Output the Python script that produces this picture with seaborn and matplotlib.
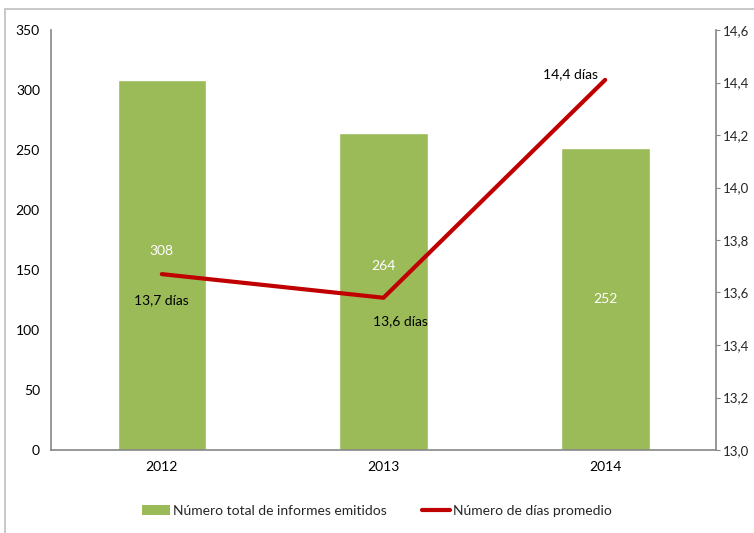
import matplotlib
matplotlib.use("Agg")
import matplotlib.pyplot as plt
import seaborn as sns
import numpy as np
import pandas as pd
from matplotlib.patches import Patch, Rectangle
from matplotlib.lines import Line2D
from matplotlib.ticker import FuncFormatter, MultipleLocator

years = ["2012", "2013", "2014"]
informes = [308, 264, 252]
dias = [13.67, 13.58, 14.41]
dias_labels = ["13,7 días", "13,6 días", "14,4 días"]
bar_name = "Número total de informes emitidos"
line_name = "Número de días promedio"

GREEN = "#9BBB59"
RED = "#C00000"
GRAY = "#868686"

sns.set_style("white")
plt.rcParams["font.family"] = ["Lato", "DejaVu Sans"]

fig = plt.figure(figsize=(7.54, 5.33), dpi=100)
ax = fig.add_axes([51/754, 1-450/533, (716-51)/754, (450-30)/533])

df = pd.DataFrame({"year": years, "n": informes, "d": dias, "pos": np.arange(len(years))})
sns.barplot(data=df, x="year", y="n", color=GREEN, width=0.4, saturation=1, ax=ax)
ax.set_xlim(-0.5, len(years) - 0.5)
ax.set_ylim(0, 350)
ax.yaxis.set_major_locator(MultipleLocator(50))
ax.set_xlabel("")
ax.set_ylabel("")
for s in ["top", "right"]:
    ax.spines[s].set_visible(False)
for s in ["left", "bottom"]:
    ax.spines[s].set_color(GRAY)
    ax.spines[s].set_linewidth(1.2)
ax.tick_params(axis="both", length=0, labelsize=10, colors="black")
ax.tick_params(axis="y", pad=8)
ax.tick_params(axis="x", pad=8)

bar_label_y = [166, 153, 126]
for i, v in enumerate(informes):
    ax.text(i, bar_label_y[i], str(v), ha="center", va="center", color="white", fontsize=10)

ax2 = ax.twinx()
sns.lineplot(data=df, x="pos", y="d", color=RED, linewidth=3, ax=ax2)
ax2.set_ylim(13.0, 14.6)
ax2.yaxis.set_major_locator(MultipleLocator(0.2))
ax2.yaxis.set_major_formatter(FuncFormatter(lambda v, p: f"{v:.1f}".replace(".", ",")))
ax2.set_xlabel("")
ax2.set_ylabel("")
for s in ["top", "left", "bottom"]:
    ax2.spines[s].set_visible(False)
ax2.spines["right"].set_color(GRAY)
ax2.spines["right"].set_linewidth(1.2)
ax2.tick_params(axis="y", length=3, color=GRAY, labelsize=9.5, pad=2)
ax.set_xlim(-0.5, len(years) - 0.5)

offsets = [(0, -19), (12, -17), (-25, 4)]
for i, (v, lab) in enumerate(zip(dias, dias_labels)):
    ax2.annotate(lab, xy=(i, v), xytext=offsets[i], textcoords="offset points",
                 ha="center", va="center", color="black", fontsize=10)

handles = [Patch(facecolor=GREEN, edgecolor="none"),
           Line2D([0], [0], color=RED, linewidth=3)]
fig.legend(handles, [bar_name, line_name], loc="center", bbox_to_anchor=(0.5, 1-511/533),
           ncol=2, frameon=False, fontsize=10, handlelength=2.0, handletextpad=0.2,
           columnspacing=2.6)

fig.patches.append(Rectangle((5/754, -0.1), 1.2, 1 - 9/533 + 0.1, transform=fig.transFigure,
                             fill=False, edgecolor="#BFBFBF", linewidth=1.2, zorder=-1))

fig.savefig("out.png", dpi=100)
